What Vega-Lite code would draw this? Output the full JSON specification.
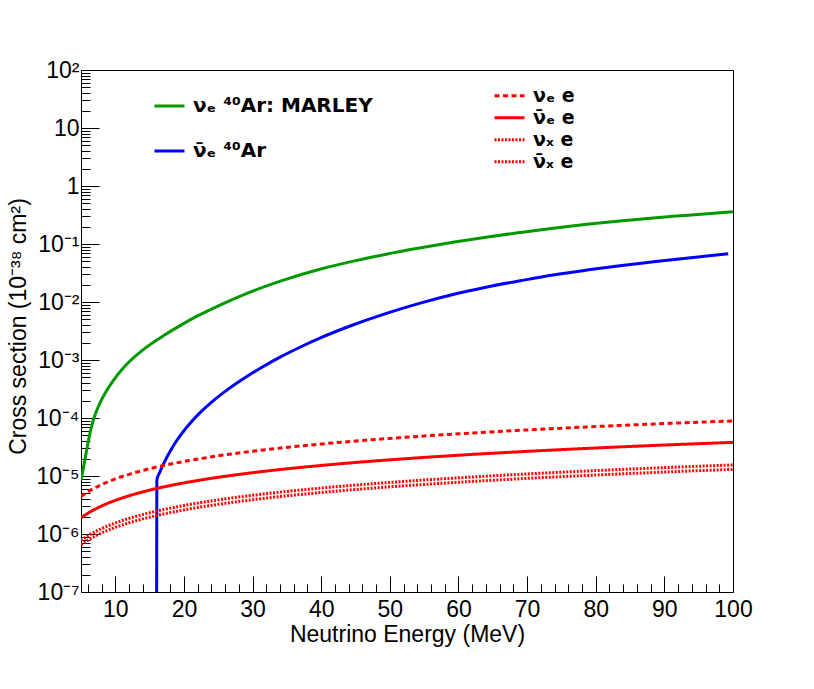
{
  "$schema": "https://vega.github.io/schema/vega-lite/v6.json",
  "width": 652,
  "height": 522,
  "autosize": {"type": "none"},
  "padding": {"left": 81, "top": 70, "right": 81, "bottom": 97},
  "background": "white",
  "config": {
    "view": {"stroke": "black", "strokeWidth": 1},
    "axis": {
      "grid": false,
      "domain": false,
      "tickColor": "black",
      "tickWidth": 1,
      "labelFont": "Liberation Sans",
      "labelFontSize": 23,
      "labelColor": "black",
      "labelFlush": false,
      "labelOverlap": false,
      "titleFont": "Liberation Sans",
      "titleFontSize": 23,
      "titleFontWeight": "normal",
      "titleColor": "black"
    }
  },
  "datasets": {
    "ar": [
      {"E": 5.0, "xs": 8.5e-6, "p": "νₑ ⁴⁰Ar: MARLEY"},
      {"E": 5.4, "xs": 1.48e-5, "p": "νₑ ⁴⁰Ar: MARLEY"},
      {"E": 5.83, "xs": 2.82e-5, "p": "νₑ ⁴⁰Ar: MARLEY"},
      {"E": 6.3, "xs": 5.37e-5, "p": "νₑ ⁴⁰Ar: MARLEY"},
      {"E": 6.8, "xs": 9.33e-5, "p": "νₑ ⁴⁰Ar: MARLEY"},
      {"E": 7.77, "xs": 1.82e-4, "p": "νₑ ⁴⁰Ar: MARLEY"},
      {"E": 8.7, "xs": 2.92e-4, "p": "νₑ ⁴⁰Ar: MARLEY"},
      {"E": 9.7, "xs": 4.43e-4, "p": "νₑ ⁴⁰Ar: MARLEY"},
      {"E": 11.0, "xs": 6.93e-4, "p": "νₑ ⁴⁰Ar: MARLEY"},
      {"E": 12.1, "xs": 9.5e-4, "p": "νₑ ⁴⁰Ar: MARLEY"},
      {"E": 14.5, "xs": 1.65e-3, "p": "νₑ ⁴⁰Ar: MARLEY"},
      {"E": 17.0, "xs": 2.62e-3, "p": "νₑ ⁴⁰Ar: MARLEY"},
      {"E": 19.5, "xs": 3.96e-3, "p": "νₑ ⁴⁰Ar: MARLEY"},
      {"E": 21.9, "xs": 5.7e-3, "p": "νₑ ⁴⁰Ar: MARLEY"},
      {"E": 25.5, "xs": 9.14e-3, "p": "νₑ ⁴⁰Ar: MARLEY"},
      {"E": 29.1, "xs": 1.4e-2, "p": "νₑ ⁴⁰Ar: MARLEY"},
      {"E": 34.5, "xs": 2.38e-2, "p": "νₑ ⁴⁰Ar: MARLEY"},
      {"E": 39.8, "xs": 3.66e-2, "p": "νₑ ⁴⁰Ar: MARLEY"},
      {"E": 44.7, "xs": 5.07e-2, "p": "νₑ ⁴⁰Ar: MARLEY"},
      {"E": 49.5, "xs": 6.68e-2, "p": "νₑ ⁴⁰Ar: MARLEY"},
      {"E": 54.3, "xs": 8.51e-2, "p": "νₑ ⁴⁰Ar: MARLEY"},
      {"E": 59.2, "xs": 0.107, "p": "νₑ ⁴⁰Ar: MARLEY"},
      {"E": 64.0, "xs": 0.131, "p": "νₑ ⁴⁰Ar: MARLEY"},
      {"E": 69.0, "xs": 0.158, "p": "νₑ ⁴⁰Ar: MARLEY"},
      {"E": 73.8, "xs": 0.1875, "p": "νₑ ⁴⁰Ar: MARLEY"},
      {"E": 78.7, "xs": 0.219, "p": "νₑ ⁴⁰Ar: MARLEY"},
      {"E": 83.5, "xs": 0.25, "p": "νₑ ⁴⁰Ar: MARLEY"},
      {"E": 88.4, "xs": 0.282, "p": "νₑ ⁴⁰Ar: MARLEY"},
      {"E": 93.0, "xs": 0.311, "p": "νₑ ⁴⁰Ar: MARLEY"},
      {"E": 100.0, "xs": 0.359, "p": "νₑ ⁴⁰Ar: MARLEY"},
      {"E": 16.02, "xs": 1e-7, "p": "ν̄ₑ ⁴⁰Ar"},
      {"E": 16.05, "xs": 8.5e-6, "p": "ν̄ₑ ⁴⁰Ar"},
      {"E": 16.5, "xs": 1.175e-5, "p": "ν̄ₑ ⁴⁰Ar"},
      {"E": 17.0, "xs": 1.585e-5, "p": "ν̄ₑ ⁴⁰Ar"},
      {"E": 17.5, "xs": 2.09e-5, "p": "ν̄ₑ ⁴⁰Ar"},
      {"E": 18.2, "xs": 2.95e-5, "p": "ν̄ₑ ⁴⁰Ar"},
      {"E": 19.0, "xs": 4.17e-5, "p": "ν̄ₑ ⁴⁰Ar"},
      {"E": 20.0, "xs": 6.03e-5, "p": "ν̄ₑ ⁴⁰Ar"},
      {"E": 20.9, "xs": 8.13e-5, "p": "ν̄ₑ ⁴⁰Ar"},
      {"E": 22.5, "xs": 1.29e-4, "p": "ν̄ₑ ⁴⁰Ar"},
      {"E": 24.3, "xs": 2.0e-4, "p": "ν̄ₑ ⁴⁰Ar"},
      {"E": 26.5, "xs": 3.18e-4, "p": "ν̄ₑ ⁴⁰Ar"},
      {"E": 29.1, "xs": 5.14e-4, "p": "ν̄ₑ ⁴⁰Ar"},
      {"E": 31.5, "xs": 7.66e-4, "p": "ν̄ₑ ⁴⁰Ar"},
      {"E": 34.0, "xs": 1.12e-3, "p": "ν̄ₑ ⁴⁰Ar"},
      {"E": 36.9, "xs": 1.66e-3, "p": "ν̄ₑ ⁴⁰Ar"},
      {"E": 39.8, "xs": 2.38e-3, "p": "ν̄ₑ ⁴⁰Ar"},
      {"E": 44.7, "xs": 4.05e-3, "p": "ν̄ₑ ⁴⁰Ar"},
      {"E": 49.5, "xs": 6.37e-3, "p": "ν̄ₑ ⁴⁰Ar"},
      {"E": 54.3, "xs": 9.48e-3, "p": "ν̄ₑ ⁴⁰Ar"},
      {"E": 59.2, "xs": 1.35e-2, "p": "ν̄ₑ ⁴⁰Ar"},
      {"E": 64.0, "xs": 1.8e-2, "p": "ν̄ₑ ⁴⁰Ar"},
      {"E": 69.0, "xs": 2.32e-2, "p": "ν̄ₑ ⁴⁰Ar"},
      {"E": 73.8, "xs": 2.92e-2, "p": "ν̄ₑ ⁴⁰Ar"},
      {"E": 78.7, "xs": 3.55e-2, "p": "ν̄ₑ ⁴⁰Ar"},
      {"E": 83.5, "xs": 4.22e-2, "p": "ν̄ₑ ⁴⁰Ar"},
      {"E": 88.4, "xs": 4.93e-2, "p": "ν̄ₑ ⁴⁰Ar"},
      {"E": 93.5, "xs": 5.75e-2, "p": "ν̄ₑ ⁴⁰Ar"},
      {"E": 99.3, "xs": 6.76e-2, "p": "ν̄ₑ ⁴⁰Ar"}
    ],
    "ee": [
      {"E": 5, "xs": 4.45e-6, "p": "νₑ e"},
      {"E": 6, "xs": 5.34e-6, "p": "νₑ e"},
      {"E": 7, "xs": 6.23e-6, "p": "νₑ e"},
      {"E": 8, "xs": 7.12e-6, "p": "νₑ e"},
      {"E": 10, "xs": 8.9e-6, "p": "νₑ e"},
      {"E": 12, "xs": 1.068e-5, "p": "νₑ e"},
      {"E": 15, "xs": 1.335e-5, "p": "νₑ e"},
      {"E": 20, "xs": 1.78e-5, "p": "νₑ e"},
      {"E": 25, "xs": 2.225e-5, "p": "νₑ e"},
      {"E": 30, "xs": 2.67e-5, "p": "νₑ e"},
      {"E": 40, "xs": 3.56e-5, "p": "νₑ e"},
      {"E": 50, "xs": 4.45e-5, "p": "νₑ e"},
      {"E": 60, "xs": 5.34e-5, "p": "νₑ e"},
      {"E": 70, "xs": 6.23e-5, "p": "νₑ e"},
      {"E": 80, "xs": 7.12e-5, "p": "νₑ e"},
      {"E": 90, "xs": 8.01e-5, "p": "νₑ e"},
      {"E": 100, "xs": 8.9e-5, "p": "νₑ e"},
      {"E": 5, "xs": 1.9e-6, "p": "ν̄ₑ e"},
      {"E": 6, "xs": 2.28e-6, "p": "ν̄ₑ e"},
      {"E": 7, "xs": 2.66e-6, "p": "ν̄ₑ e"},
      {"E": 8, "xs": 3.04e-6, "p": "ν̄ₑ e"},
      {"E": 10, "xs": 3.8e-6, "p": "ν̄ₑ e"},
      {"E": 12, "xs": 4.56e-6, "p": "ν̄ₑ e"},
      {"E": 15, "xs": 5.7e-6, "p": "ν̄ₑ e"},
      {"E": 20, "xs": 7.6e-6, "p": "ν̄ₑ e"},
      {"E": 25, "xs": 9.5e-6, "p": "ν̄ₑ e"},
      {"E": 30, "xs": 1.14e-5, "p": "ν̄ₑ e"},
      {"E": 40, "xs": 1.52e-5, "p": "ν̄ₑ e"},
      {"E": 50, "xs": 1.9e-5, "p": "ν̄ₑ e"},
      {"E": 60, "xs": 2.28e-5, "p": "ν̄ₑ e"},
      {"E": 70, "xs": 2.66e-5, "p": "ν̄ₑ e"},
      {"E": 80, "xs": 3.04e-5, "p": "ν̄ₑ e"},
      {"E": 90, "xs": 3.42e-5, "p": "ν̄ₑ e"},
      {"E": 100, "xs": 3.8e-5, "p": "ν̄ₑ e"},
      {"E": 5, "xs": 7.75e-7, "p": "νₓ e"},
      {"E": 6, "xs": 9.3e-7, "p": "νₓ e"},
      {"E": 7, "xs": 1.085e-6, "p": "νₓ e"},
      {"E": 8, "xs": 1.24e-6, "p": "νₓ e"},
      {"E": 10, "xs": 1.55e-6, "p": "νₓ e"},
      {"E": 12, "xs": 1.86e-6, "p": "νₓ e"},
      {"E": 15, "xs": 2.325e-6, "p": "νₓ e"},
      {"E": 20, "xs": 3.1e-6, "p": "νₓ e"},
      {"E": 25, "xs": 3.875e-6, "p": "νₓ e"},
      {"E": 30, "xs": 4.65e-6, "p": "νₓ e"},
      {"E": 40, "xs": 6.2e-6, "p": "νₓ e"},
      {"E": 50, "xs": 7.75e-6, "p": "νₓ e"},
      {"E": 60, "xs": 9.3e-6, "p": "νₓ e"},
      {"E": 70, "xs": 1.085e-5, "p": "νₓ e"},
      {"E": 80, "xs": 1.24e-5, "p": "νₓ e"},
      {"E": 90, "xs": 1.395e-5, "p": "νₓ e"},
      {"E": 100, "xs": 1.55e-5, "p": "νₓ e"},
      {"E": 5, "xs": 6.5e-7, "p": "ν̄ₓ e"},
      {"E": 6, "xs": 7.8e-7, "p": "ν̄ₓ e"},
      {"E": 7, "xs": 9.1e-7, "p": "ν̄ₓ e"},
      {"E": 8, "xs": 1.04e-6, "p": "ν̄ₓ e"},
      {"E": 10, "xs": 1.3e-6, "p": "ν̄ₓ e"},
      {"E": 12, "xs": 1.56e-6, "p": "ν̄ₓ e"},
      {"E": 15, "xs": 1.95e-6, "p": "ν̄ₓ e"},
      {"E": 20, "xs": 2.6e-6, "p": "ν̄ₓ e"},
      {"E": 25, "xs": 3.25e-6, "p": "ν̄ₓ e"},
      {"E": 30, "xs": 3.9e-6, "p": "ν̄ₓ e"},
      {"E": 40, "xs": 5.2e-6, "p": "ν̄ₓ e"},
      {"E": 50, "xs": 6.5e-6, "p": "ν̄ₓ e"},
      {"E": 60, "xs": 7.8e-6, "p": "ν̄ₓ e"},
      {"E": 70, "xs": 9.1e-6, "p": "ν̄ₓ e"},
      {"E": 80, "xs": 1.04e-5, "p": "ν̄ₓ e"},
      {"E": 90, "xs": 1.17e-5, "p": "ν̄ₓ e"},
      {"E": 100, "xs": 1.3e-5, "p": "ν̄ₓ e"}
    ]
  },
  "layer": [
    {
      "data": {"name": "ar"},
      "mark": {"type": "line", "strokeWidth": 3, "clip": true, "interpolate": "monotone"},
      "encoding": {
        "x": {
          "field": "E", "type": "quantitative",
          "scale": {"domain": [5, 100], "nice": false, "zero": false},
          "axis": {
            "orient": "bottom",
            "values": [10, 20, 30, 40, 50, 60, 70, 80, 90, 100],
            "tickSize": -16,
            "labelPadding": 22,
            "title": "Neutrino Energy (MeV)",
            "titleBaseline": "alphabetic",
            "titleY": 49
          }
        },
        "y": {
          "field": "xs", "type": "quantitative",
          "scale": {"type": "log", "domain": [1e-7, 100], "nice": false},
          "axis": {
            "orient": "left",
            "values": [1e-7, 1e-6, 1e-5, 1e-4, 1e-3, 1e-2, 1e-1, 1, 10, 100],
            "tickSize": -18,
            "labelPadding": 20,
            "labelBaseline": "middle",
            "labelExpr": "datum.value < 5e-7 ? '10⁻⁷' : datum.value < 5e-6 ? '10⁻⁶' : datum.value < 5e-5 ? '10⁻⁵' : datum.value < 5e-4 ? '10⁻⁴' : datum.value < 5e-3 ? '10⁻³' : datum.value < 5e-2 ? '10⁻²' : datum.value < 0.5 ? '10⁻¹' : datum.value < 5 ? '1' : datum.value < 50 ? '10' : '10²'",
            "title": "Cross section (10⁻³⁸ cm²)",
            "titleAngle": 270,
            "titleAlign": "center",
            "titleBaseline": "alphabetic",
            "titleX": -56,
            "titleY": 256
          }
        },
        "color": {
          "field": "p", "type": "nominal",
          "scale": {"domain": ["νₑ ⁴⁰Ar: MARLEY", "ν̄ₑ ⁴⁰Ar"], "range": ["#009900", "#0000ff"]},
          "legend": {
            "orient": "none", "legendX": 72, "legendY": 25, "title": null, "padding": 0,
            "symbolType": "stroke", "symbolSize": 900, "symbolStrokeWidth": 3,
            "labelFont": "DejaVu Sans", "labelFontSize": 20, "labelFontWeight": "bold",
            "labelColor": "black", "labelOffset": 7, "labelLimit": 400,
            "clipHeight": 22, "rowPadding": 23
          }
        }
      }
    },
    {
      "data": {"name": "ee"},
      "mark": {"type": "line", "strokeWidth": 3, "clip": true, "interpolate": "monotone"},
      "encoding": {
        "x": {
          "field": "E", "type": "quantitative",
          "scale": {"domain": [5, 100], "nice": false, "zero": false},
          "axis": {
            "orient": "bottom",
            "values": [6, 8, 12, 14, 16, 18, 22, 24, 26, 28, 32, 34, 36, 38, 42, 44, 46, 48, 52, 54, 56, 58, 62, 64, 66, 68, 72, 74, 76, 78, 82, 84, 86, 88, 92, 94, 96, 98],
            "tickSize": -8,
            "labels": false,
            "title": null
          }
        },
        "y": {
          "field": "xs", "type": "quantitative",
          "scale": {"type": "log", "domain": [1e-7, 100], "nice": false},
          "axis": {
            "orient": "left",
            "values": [2e-7, 3e-7, 4e-7, 5e-7, 6e-7, 7e-7, 8e-7, 9e-7, 2e-6, 3e-6, 4e-6, 5e-6, 6e-6, 7e-6, 8e-6, 9e-6, 2e-5, 3e-5, 4e-5, 5e-5, 6e-5, 7e-5, 8e-5, 9e-5, 2e-4, 3e-4, 4e-4, 5e-4, 6e-4, 7e-4, 8e-4, 9e-4, 2e-3, 3e-3, 4e-3, 5e-3, 6e-3, 7e-3, 8e-3, 9e-3, 0.02, 0.03, 0.04, 0.05, 0.06, 0.07, 0.08, 0.09, 0.2, 0.3, 0.4, 0.5, 0.6, 0.7, 0.8, 0.9, 2, 3, 4, 5, 6, 7, 8, 9, 20, 30, 40, 50, 60, 70, 80, 90],
            "tickSize": -9,
            "labels": false,
            "title": null
          }
        },
        "color": {
          "field": "p", "type": "nominal",
          "scale": {"domain": ["νₑ e", "ν̄ₑ e", "νₓ e", "ν̄ₓ e"], "range": ["#ff0000", "#ff0000", "#ff0000", "#ff0000"]},
          "legend": {
            "orient": "none", "legendX": 412, "legendY": 15, "title": null, "padding": 0,
            "symbolType": "stroke", "symbolSize": 900, "symbolStrokeWidth": 3,
            "labelFont": "DejaVu Sans", "labelFontSize": 19, "labelFontWeight": "bold",
            "labelColor": "black", "labelOffset": 7, "labelLimit": 200,
            "clipHeight": 21.5, "rowPadding": 0
          }
        },
        "strokeDash": {
          "field": "p", "type": "nominal",
          "scale": {"domain": ["νₑ e", "ν̄ₑ e", "νₓ e", "ν̄ₓ e"], "range": [[5, 3.5], [1, 0], [2, 1.5], [2, 1.5]]},
          "legend": {
            "orient": "none", "legendX": 412, "legendY": 15, "title": null, "padding": 0,
            "symbolType": "stroke", "symbolSize": 900, "symbolStrokeWidth": 3,
            "labelFont": "DejaVu Sans", "labelFontSize": 19, "labelFontWeight": "bold",
            "labelColor": "black", "labelOffset": 7, "labelLimit": 200,
            "clipHeight": 21.5, "rowPadding": 0
          }
        }
      }
    }
  ],
  "resolve": {
    "scale": {"color": "independent", "strokeDash": "independent"},
    "axis": {"x": "independent", "y": "independent"}
  }
}
